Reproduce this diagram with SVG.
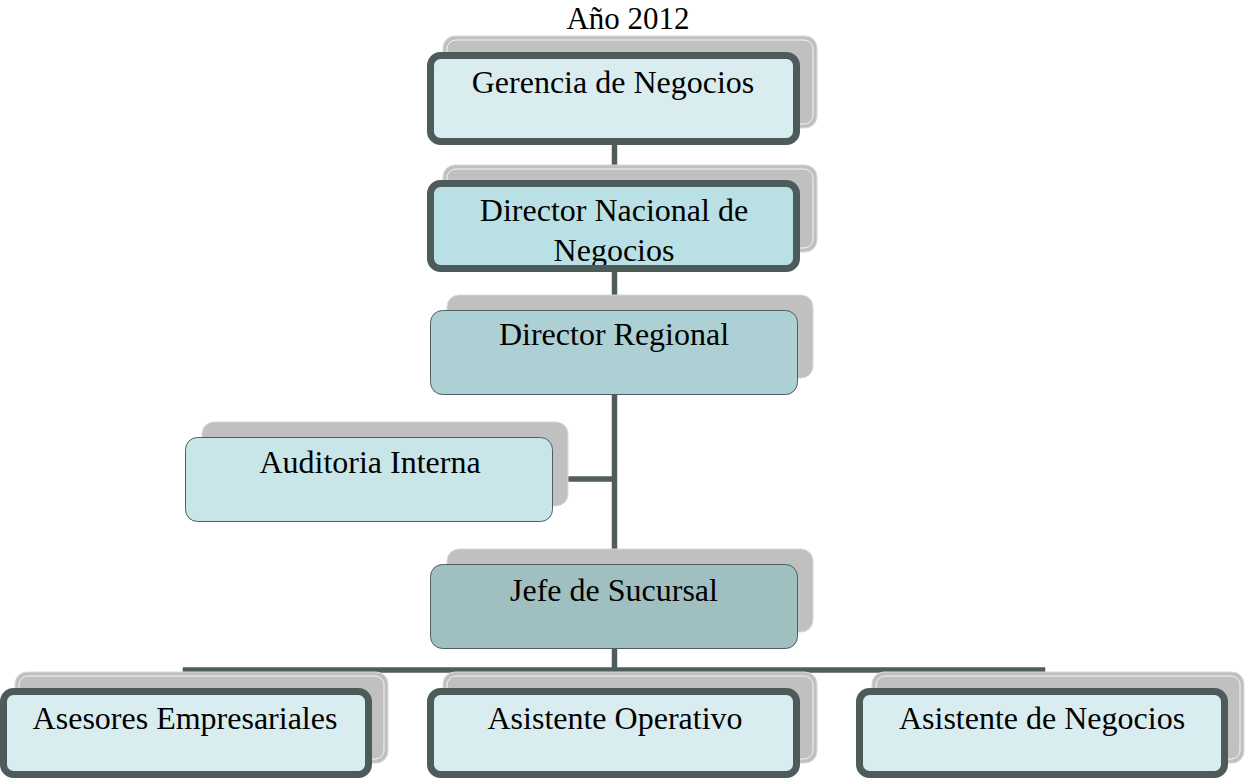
<svg xmlns="http://www.w3.org/2000/svg" width="1245" height="781" viewBox="0 0 1245 781">
<style>
.t{font-family:"Liberation Serif","Times New Roman",serif;font-size:32px;fill:#000;text-anchor:middle}
.sh{fill:#c0c0c0;stroke:#d8d8d8;stroke-width:1}
.shin{fill:none;stroke:#f4f4f4;stroke-width:1}
.thick{stroke:#4d5b5b;stroke-width:7}
.thin{stroke:#4f5f5f;stroke-width:1}
.c{stroke:#4f5d5d;stroke-width:5.5;fill:none}
</style>
<defs>
<clipPath id="dnclip"><rect x="434" y="187" width="359" height="78" rx="8"/></clipPath>
</defs>
<rect width="1245" height="781" fill="#fff"/>
<text class="t" x="628" y="29" style="font-size:31px">Año 2012</text>

<g id="connectors">
<line class="c" x1="614.5" y1="145" x2="614.5" y2="183"/>
<line class="c" x1="614.5" y1="272" x2="614.5" y2="310"/>
<line class="c" x1="614.5" y1="395" x2="614.5" y2="564"/>
<line class="c" x1="553" y1="479" x2="614.5" y2="479"/>
<line class="c" x1="614.5" y1="649" x2="614.5" y2="688"/>
<polyline class="c" points="185.5,688 185.5,670 1042.5,670 1042.5,688"/>
</g>

<g id="gerencia">
<rect class="sh" x="443" y="36" width="374" height="92" rx="12"/>
<rect class="shin" x="447" y="40" width="366" height="84" rx="9"/>
<rect class="thick" x="430.5" y="55.5" width="366" height="86" rx="10" fill="#d9edf0"/>
<text class="t" x="613" y="93">Gerencia de Negocios</text>
</g>

<g id="director-nacional">
<rect class="sh" x="443" y="165" width="374" height="87" rx="12"/>
<rect class="shin" x="447" y="169" width="366" height="79" rx="9"/>
<rect class="thick" x="430.5" y="183.5" width="366" height="85" rx="10" fill="#b9e0e4"/>
<g clip-path="url(#dnclip)">
<text class="t" x="614" y="221">Director Nacional de</text>
<text class="t" x="614" y="261">Negocios</text>
</g>
</g>

<g id="director-regional">
<rect class="sh" x="447" y="295" width="366" height="83" rx="12" stroke="none"/>
<rect class="thin" x="430.5" y="310.5" width="367" height="84" rx="12" fill="#acd0d3"/>
<text class="t" x="614" y="345">Director Regional</text>
</g>

<g id="auditoria">
<rect class="sh" x="202" y="422" width="366" height="84" rx="12" stroke="none"/>
<rect class="thin" x="185.5" y="437.5" width="367" height="84" rx="12" fill="#c8e6e8"/>
<text class="t" x="370" y="473">Auditoria Interna</text>
</g>

<g id="jefe">
<rect class="sh" x="447" y="549" width="366" height="83" rx="12" stroke="none"/>
<rect class="thin" x="430.5" y="564.5" width="367" height="84" rx="12" fill="#a0bfc1"/>
<text class="t" x="614" y="601">Jefe de Sucursal</text>
</g>

<g id="asesores">
<rect class="sh" x="15" y="672" width="373" height="91" rx="12"/>
<rect class="shin" x="19" y="676" width="365" height="83" rx="9"/>
<rect class="thick" x="3.5" y="691.5" width="365" height="83" rx="10" fill="#d9edf0"/>
<text class="t" x="185" y="729">Asesores Empresariales</text>
</g>

<g id="asistente-operativo">
<rect class="sh" x="443" y="672" width="374" height="91" rx="12"/>
<rect class="shin" x="447" y="676" width="366" height="83" rx="9"/>
<rect class="thick" x="430.5" y="691.5" width="366" height="83" rx="10" fill="#d9edf0"/>
<text class="t" x="615" y="729">Asistente Operativo</text>
</g>

<g id="asistente-negocios">
<rect class="sh" x="872" y="672" width="372" height="91" rx="12"/>
<rect class="shin" x="876" y="676" width="364" height="83" rx="9"/>
<rect class="thick" x="859.5" y="691.5" width="365" height="83" rx="10" fill="#d9edf0"/>
<text class="t" x="1042" y="729">Asistente de Negocios</text>
</g>
</svg>
